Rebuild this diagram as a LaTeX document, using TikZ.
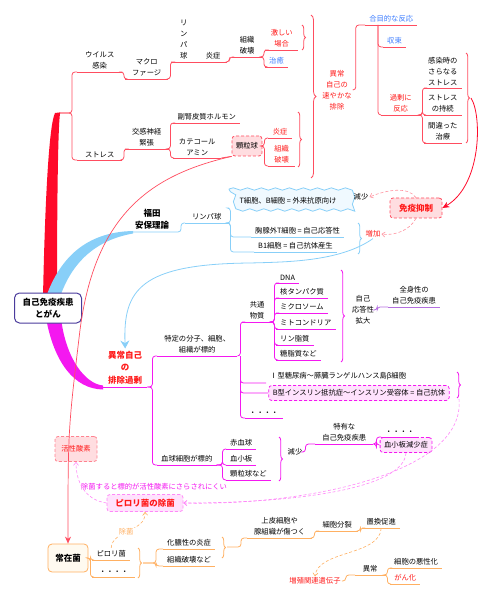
\documentclass[tikz,border=0pt]{standalone}
\usepackage{fontspec}
\setmainfont{Noto Sans CJK JP}
\usetikzlibrary{arrows.meta,calc,decorations.pathreplacing,decorations.pathmorphing}

\definecolor{mred}{HTML}{FF0A2A}
\definecolor{lred}{HTML}{FF4D60}
\definecolor{mblue}{HTML}{88CFF8}
\definecolor{mmag}{HTML}{F418F0}
\definecolor{lmag}{HTML}{FF88F8}
\definecolor{morange}{HTML}{FFB062}
\definecolor{tred}{HTML}{FF1A1A}
\definecolor{tblue}{HTML}{3A7BFF}
\definecolor{rootb}{HTML}{4A3B9C}
\definecolor{mpurple}{HTML}{B46FE0}
\definecolor{pinkf}{HTML}{FFDDE0}
\definecolor{magf}{HTML}{FFE2FD}
\definecolor{cloudf}{HTML}{F0F9FF}
\definecolor{orf}{HTML}{FFFAF0}

\newcommand\tp{\fontsize{7.3}{11}\selectfont}
\newcommand\tb{\fontsize{8.5}{12.5}\selectfont\bfseries}

\tikzset{
  topic/.style={font=\tp, inner xsep=4pt, inner ysep=2.5pt, align=center, anchor=south west},
  freetxt/.style={font=\tp, inner sep=1pt, align=center},
  rtxt/.style={text=tred},
  btxt/.style={text=tblue},
  redln/.style={draw=lred, line width=0.8pt, rounded corners=3pt},
  blueln/.style={draw=mblue, line width=0.8pt, rounded corners=3pt},
  magln/.style={draw=mmag, line width=0.8pt, rounded corners=3pt},
  orln/.style={draw=morange, line width=0.8pt, rounded corners=3pt},
  brc/.style={line width=0.8pt, decorate, decoration={brace, amplitude=3.5pt}},
  dbox/.style={densely dashed, line width=0.8pt, rounded corners=3pt, inner xsep=4pt, align=center},
  rarrow/.style={draw=mred, line width=0.8pt, -{Stealth[length=7pt,width=6pt]}},
  rlink/.style={draw=lred, line width=0.7pt, -{Stealth[length=7pt,width=6pt]}},
  barrow/.style={draw=mblue, line width=0.8pt, -{Stealth[length=8pt,width=9pt]}},
  pkarrow/.style={draw=lred!60, line width=0.6pt, densely dashed, -{Straight Barb[length=3pt,width=5pt]}},
  mgarrow/.style={draw=lmag, line width=0.6pt, densely dashed, -{Straight Barb[length=3pt,width=5pt]}},
  orarrow/.style={draw=morange, line width=0.6pt, densely dashed, -{Straight Barb[length=3pt,width=5pt]}},
}

\begin{document}
\begin{tikzpicture}[x=1pt, y=-1pt]
  \useasboundingbox (0,0) rectangle (494,601);

  % 太い枝
  \fill[mred] (43,297) .. controls (45,200) and (49,125) .. (55,113) -- (60,112.4) -- (60,113.6) .. controls (58,128) and (57,200) .. (57,297) -- cycle;
  \fill[mblue] (46,297) .. controls (60,258) and (86,232) .. (133,231) -- (133,233.5) .. controls (96,240) and (72,262) .. (60,297) -- cycle;
  \fill[mmag] (46,318) .. controls (54,362) and (74,389) .. (103,389.5) -- (103,385.5) .. controls (86,384) and (66,360) .. (61,318) -- cycle;
  \coordinate (rtop) at (60,113);
  \coordinate (btop) at (133,232);
  \node[draw=rootb, line width=1pt, rounded corners=5pt, fill=white, font=\tb, align=center, minimum width=67pt, minimum height=30pt, inner sep=1pt] (root) at (48,308) {自己免疫疾患\\とがん};

  % ウイルス感染・ストレス
  \node[topic, minimum width=45pt] (vinf) at (77,72) {ウイルス\\感染};
  \node[topic, minimum width=43pt] (macro) at (125,79) {マクロ\\ファージ};
  \node[topic, minimum width=25pt] (lymph1) at (171,62) {リ\\ン\\パ\\球};
  \node[topic, minimum width=28pt] (ens1) at (199,62) {炎症};
  \node[topic, minimum width=30pt] (sosh1) at (232,57) {組織\\破壊};
  \node[topic, rtxt, minimum width=33pt] (hage) at (265,50) {激しい\\場合};
  \node[topic, btxt, minimum width=22pt] (chiyu) at (265,67) {治癒};
  \node[topic, minimum width=45pt] (stress) at (77,160) {ストレス};
  \node[topic, minimum width=43pt] (kokan) at (125,149) {交感神経\\緊張};
  \node[topic, minimum width=67pt] (fukujin) at (173,123) {副腎皮質ホルモン};
  \node[topic, minimum width=48pt] (catechol) at (173,158) {カテコール\\アミン};
  \node[dbox, draw=lred, fill=pinkf, font=\tp, minimum width=30pt, minimum height=20pt] (granul) at (247,146) {顆粒球};
  \node[topic, rtxt, minimum width=24pt] (ens2) at (268,138) {炎症};
  \node[topic, rtxt, minimum width=27pt] (sosh2) at (268,166) {組織\\破壊};
  \node[freetxt, rtxt] (ijo) at (337,90) {異常\\自己の\\速やかな\\排除};
  \node[topic, btxt, minimum width=52pt] (gomoku) at (365,25) {合目的な反応};
  \node[topic, btxt, minimum width=22pt] (shusoku) at (383,47) {収束};
  \node[topic, rtxt, minimum width=39pt] (kajo) at (381,115) {過剰に\\反応};
  \node[topic, minimum width=37pt] (kansen) at (424,88) {感染時の\\さらなる\\ストレス};
  \node[topic, minimum width=37pt] (jizoku) at (424,115) {ストレス\\の持続};
  \node[topic, minimum width=37pt] (machigai) at (424,143) {間違った\\治療};

  \draw[redln] (rtop) -- ++(12,0) |- (vinf.south west);
  \draw[redln] (rtop) -- ++(12,0) |- (stress.south west);
  \draw[redln] (vinf.south east) -- ++(1.5,0) |- (macro.south west);
  \draw[redln] (macro.south east) -- ++(2,0) |- (lymph1.south west);
  \draw[redln] (lymph1.south east) -- (ens1.south west);
  \draw[redln] (ens1.south east) -- ++(2,0) |- (sosh1.south west);
  \draw[redln] (sosh1.south east) -- ++(1.5,0) |- (hage.south west);
  \draw[redln] (sosh1.south east) -- ++(1.5,0) |- (chiyu.south west);
  \draw[redln] (stress.south east) -- ++(1.5,0) |- (kokan.south west);
  \draw[redln] (kokan.south east) -- ++(2,0) |- (fukujin.south west);
  \draw[redln] (kokan.south east) -- ++(2,0) |- (catechol.south west);
  \draw[redln] (catechol.south east) -- (granul.south west);
  \draw[redln] (granul.east) -- ++(2,0) |- (ens2.south west);
  \draw[redln] (granul.east) -- ++(2,0) |- (sosh2.south west);
  \draw[redln] (ijo.east) -- ++(3,0) |- (gomoku.south west);
  \coordinate (gj) at ($(gomoku.south west)+(13,0)$);
  \draw[redln] (gj) |- (shusoku.south west);
  \draw[redln] (gj) |- (kajo.south west);
  \foreach \n in {kansen,jizoku,machigai}
    \draw[redln] (kajo.south east) -- ++(2,0) |- (\n.south west);
  \foreach \n in {vinf,macro,lymph1,ens1,sosh1,hage,chiyu,stress,kokan,fukujin,catechol,ens2,sosh2,gomoku,shusoku,kajo,kansen,jizoku,machigai}
    \draw[redln] (\n.south west) -- (\n.south east);
  \draw[lred, brc] (302,25) -- (302,50);
  \draw[lred, brc] (298,112) -- (298,167);
  \draw[lred, brc, decoration={amplitude=5pt}] (311,15) -- (311,178);
  \draw[lred, brc] (466,53) -- (466,143);
  \coordinate (b4) at (471,98);

  % 福田安保理論
  \node[font=\tb, align=center, anchor=south, inner sep=2pt] (fukuda) at (152,232) {福田\\安保理論};
  \node[topic, minimum width=43pt] (lymph2) at (185,223) {リンパ球};
  \draw[mblue, line width=0.8pt, fill=cloudf, decorate, decoration={snake, amplitude=1.2pt, segment length=14pt}] (229,189) -- (347,189) -- (347,212) -- (229,212) -- cycle;
  \coordinate (cloudw) at (229,208);
  \node[freetxt] (cloud) at (288,201) {T細胞、B細胞 = 外来抗原向け};
  \node[topic] (kyosen) at (251,237) {胸腺外T細胞 = 自己応答性};
  \node[topic] (b1) at (254,252) {B1細胞 = 自己抗体産生};
  \draw[blueln] (btop) -- ++(48,0) |- (lymph2.south west);
  \draw[blueln] (lymph2.south east) -- ++(2,0) |- (cloudw);
  \draw[blueln] (lymph2.south east) -- ++(2,0) |- (kyosen.south west);
  \draw[blueln] (lymph2.south east) -- ++(2,0) |- (b1.south west);
  \foreach \n in {lymph2,kyosen,b1}
    \draw[blueln] (\n.south west) -- (\n.south east);
  \draw[mblue, brc] (358,223) -- (358,254);
  \node[freetxt] (gensho1) at (361,197) {減少};
  \node[freetxt, rtxt] (zoka) at (373,234) {増加};
  \node[dbox, draw=lred, fill=pinkf, font=\tb, text=tred, minimum width=52pt, minimum height=20pt] (menneki) at (416,208) {免疫抑制};
  \draw[pkarrow] (menneki.north) .. controls (408,186) and (386,190) .. (gensho1.east);
  \draw[pkarrow] (menneki.south) .. controls (410,230) and (395,236) .. (zoka.east);
  \draw[rarrow] (b4) .. controls (482,115) and (482,185) .. (menneki.east);

  % 異常自己の排除過剰
  \node[topic, font=\tb, text=tred, minimum width=44pt, inner xsep=2pt] (haijo) at (103,387) {異常自己\\の\\排除過剰};
  \coordinate (bmid) at (250,263);
  \draw[barrow] (zoka.south) .. controls (340,262) and (285,262) .. (bmid) .. controls (140,264) and (123,290) .. (haijo.north);
  \node[topic, minimum width=80pt] (tokutei) at (157,356) {特定の分子、細胞、\\組織が標的};
  \node[topic, minimum width=58pt] (kekkyu) at (157,465) {血球細胞が標的};
  \node[topic, minimum width=30pt] (kyotsu) at (242,322) {共通\\物質};
  \node[topic] (dna) at (276,283) {DNA};
  \node[topic] (kaku) at (276,298) {核タンパク質};
  \node[topic] (micro) at (276,313) {ミクロソーム};
  \node[topic] (mito) at (276,329) {ミトコンドリア};
  \node[topic] (rin) at (276,345) {リン脂質};
  \node[topic] (toshi) at (276,360) {糖脂質など};
  \draw[mmag, brc] (341,270) -- (341,362);
  \node[freetxt] (jiko) at (363,310) {自己\\応答性\\拡大};
  \node[topic] (zenshin) at (388,307) {全身性の\\自己免疫疾患};
  \node[topic] (type1) at (266,383) {Ⅰ型糖尿病〜膵臓ランゲルハンス島β細胞};
  \node[dbox, draw=mmag, fill=magf, font=\tp, minimum height=15pt, inner ysep=1pt] (type2) at (359,393) {B型インスリン抵抗症〜インスリン受容体 = 自己抗体};
  \node[topic] (dots1) at (245,418) {・・・・};
  \draw[mmag, brc] (457,372) -- (457,398);
  \node[topic] (seki) at (226,449) {赤血球};
  \node[topic] (kessho) at (226,465) {血小板};
  \node[topic] (kary2) at (226,480) {顆粒球など};
  \draw[mmag, brc] (279,437) -- (279,481);
  \node[freetxt] (gensho2) at (295,452) {減少};
  \node[topic, minimum width=58pt] (tokuyu) at (315,444) {特有な\\自己免疫疾患};
  \node[topic, minimum width=34pt] (dots2) at (381,437) {・・・・};
  \node[dbox, draw=mmag, fill=magf, font=\tp, minimum height=15pt, inner ysep=1pt] (kesshobox) at (406,445) {血小板減少症};

  \draw[magln] (haijo.south east) -- ++(5,0) |- (tokutei.south west);
  \draw[magln] (haijo.south east) -- ++(5,0) |- (kekkyu.south west);
  \coordinate (tj) at ($(tokutei.south east)+(3,0)$);
  \draw[magln] (tokutei.south east) -- (tj) |- (kyotsu.south west);
  \draw[magln] (tj) |- (type1.south west);
  \draw[magln] (tj) |- (type2.west);
  \draw[magln] (tj) |- (dots1.south west);
  \foreach \n in {dna,kaku,micro,mito,rin,toshi}
    \draw[magln] (kyotsu.south east) -- ++(2,0) |- (\n.south west);
  \draw[mpurple, line width=0.8pt, rounded corners=3pt] (jiko.east) -- ++(2,0) |- (zenshin.south west);
  \foreach \n in {seki,kessho,kary2}
    \draw[magln] (kekkyu.south east) -- ++(6,0) |- (\n.south west);
  \draw[magln] (gensho2.east) -- ++(2,0) |- (tokuyu.south west);
  \draw[magln] (tokuyu.south east) -- ++(3,0) |- (dots2.south west);
  \draw[magln] (tokuyu.south east) -- ++(3,0) |- (kesshobox.west);
  \foreach \n in {haijo,tokutei,kekkyu,kyotsu,dna,kaku,micro,mito,rin,toshi,dots1,seki,kessho,kary2,tokuyu,dots2}
    \draw[magln] (\n.south west) -- (\n.south east);
  \draw[mpurple, line width=0.8pt] (zenshin.south west) -- (zenshin.south east);

  % ピロリ菌の除菌
  \node[dbox, draw=lmag, fill=magf, font=\tb, text=tred, minimum width=76pt, minimum height=17pt, inner ysep=1pt] (pylori) at (145,503) {ピロリ菌の除菌};
  \node[dbox, draw=lred!70, fill=pinkf, font=\tp, text=tred, minimum width=42pt, minimum height=25pt] (kassei) at (76,449) {活性酸素};
  \node[freetxt, text=mmag] (caption) at (154,487) {除菌すると標的が活性酸素にさらされにくい};
  \coordinate (b7) at (459,399);
  \draw[mgarrow] (b7) .. controls (466,475) and (300,506) .. (pylori.east);
  \draw[mgarrow] (kesshobox.south) .. controls (404,488) and (300,503) .. (pylori.east);
  \draw[mgarrow] (pylori.west) .. controls (85,500) and (76,482) .. (kassei.south);

  % 常在菌
  \node[draw=morange, line width=0.8pt, fill=orf, rounded corners=4pt, font=\tb, minimum width=40pt, minimum height=28pt] (joukin) at (68,558) {常在菌};
  \node[topic, minimum width=38pt] (pylori2) at (92,560) {ピロリ菌};
  \node[topic, minimum width=43pt] (dots3) at (92,577) {・・・・};
  \draw[morange, brc] (138,548) -- (138,578);
  \coordinate (b9) at (143,563);
  \node[topic] (kano) at (163,549) {化膿性の炎症};
  \node[topic] (soshiki3) at (163,566) {組織破壊など};
  \draw[morange, brc] (222,537) -- (222,558);
  \coordinate (b10) at (227,547);
  \node[topic, minimum width=65pt] (johi) at (247,538) {上皮細胞や\\腺組織が傷つく};
  \node[topic, minimum width=42pt] (bunretsu) at (316,531) {細胞分裂};
  \node[topic, minimum width=38pt] (chikan) at (362,528) {置換促進};
  \node[freetxt, rtxt] (zoshoku) at (315,581) {増殖関連遺伝子};
  \node[topic, minimum width=30pt] (ijo2) at (355,575) {異常};
  \node[topic] (akusei) at (390,568) {細胞の悪性化};
  \node[topic, rtxt, minimum width=30pt] (ganka) at (390,584) {がん化};
  \draw[orln] (joukin.east) -- ++(2,0) |- (pylori2.south west);
  \draw[orln] (joukin.east) -- ++(2,0) |- (dots3.south west);
  \draw[orln] (b9) -- ++(13,0) |- (kano.south west);
  \draw[orln] (b9) -- ++(13,0) |- (soshiki3.south west);
  \draw[orln] (b10) -- ++(14,0) |- (johi.south west);
  \draw[orln] (johi.south east) -- ++(2,0) |- (bunretsu.south west);
  \draw[orln] (bunretsu.south east) -- ++(2,0) |- (chikan.south west);
  \draw[orln] (zoshoku.east) -- ++(4,0) |- (ijo2.south west);
  \draw[orln] (ijo2.south east) -- ++(2,0) |- (akusei.south west);
  \draw[orln] (ijo2.south east) -- ++(2,0) |- (ganka.south west);
  \foreach \n in {pylori2,dots3,kano,soshiki3,johi,bunretsu,chikan,ijo2,akusei,ganka}
    \draw[orln] (\n.south west) -- (\n.south east);
  \draw[orarrow] (chikan.south) .. controls (380,556) and (318,550) .. (zoshoku.north);
  \draw[orarrow] (pylori2.north) .. controls (112,530) and (146,532) .. node[freetxt, text=morange, fill=white, pos=0.45] (jokin) {除菌} (pylori.south);

  % 顆粒球から常在菌へ
  \coordinate (rv) at (80,330);
  \draw[rlink] (granul.south west) .. controls (150,175) and (95,215) .. (rv) .. controls (68,430) .. (joukin.north);
\end{tikzpicture}
\end{document}
